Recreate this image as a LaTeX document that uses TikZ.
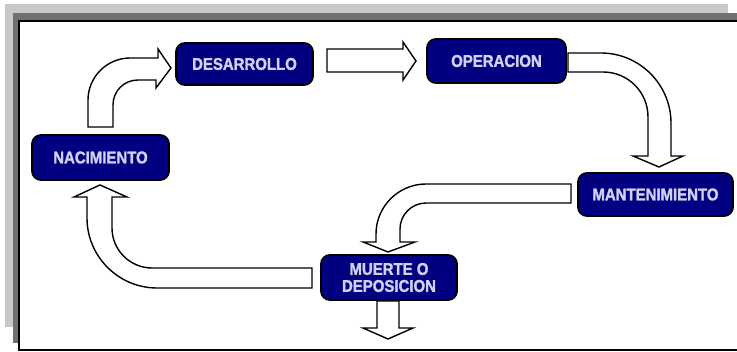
\documentclass[tikz,border=0pt]{standalone}
\usepackage{fontspec}
\setmainfont{Liberation Sans}
\newfontfamily\stagefont{Liberation Sans Bold}[FakeStretch=0.88, FakeBold=1.6]
\begin{document}
\definecolor{boxblue}{RGB}{0,0,128}
\definecolor{boxtext}{RGB}{208,208,242}
\definecolor{shadelight}{RGB}{200,200,200}
\definecolor{shadedark}{RGB}{112,112,112}
\begin{tikzpicture}[x=1pt,y=-1pt,
  stage/.style={draw=black, line width=1.8pt, fill=boxblue, rounded corners=9pt,
    inner sep=0pt, minimum height=44pt, text=boxtext, align=center,
    font=\stagefont\fontsize{17}{17}\selectfont},
  blockarrow/.style={draw=black, line width=1.4pt, fill=white, line join=miter}]
\useasboundingbox (0,0) rectangle (737,352);

% framed panel with its offset shadows
\fill[shadelight] (5,4) rectangle (728,327);
\fill[shadedark] (13,13) rectangle (760,343);
\draw[line width=2pt, fill=white] (19,21) rectangle (780,350.5);

% life-cycle stages
\node[stage, minimum width=137pt, minimum height=42pt] (des) at (244.5,64) {DESARROLLO};
\node[stage, minimum width=139pt] (ope) at (496.5,61) {OPERACION};
\node[stage, minimum width=137pt, minimum height=45pt] (nac) at (100.5,157.5) {NACIMIENTO};
\node[stage, minimum width=155pt, minimum height=43pt] (man) at (655.5,194.5) {MANTENIMIENTO};
\node[stage, minimum width=136pt, minimum height=45pt] (mue) at (389,277.5) {MUERTE O\\DEPOSICION};

% NACIMIENTO -> DESARROLLO
\draw[blockarrow] (88,127) -- (88,100) .. controls (88,77) and (107,58) .. (130,58)
  -- (158,58) -- (158,49) -- (171,68) -- (156,88) -- (156,80) -- (138,80)
  .. controls (124,80) and (113,91) .. (113,105) -- (113,127) -- cycle;

% DESARROLLO -> OPERACION
\draw[blockarrow] (327,49) -- (403,49) -- (403,42) -- (416,61) -- (403,80)
  -- (403,72) -- (327,72) -- cycle;

% OPERACION -> MANTENIMIENTO
\draw[blockarrow] (568,53) -- (601,53) .. controls (639.5,53) and (671,84.5) .. (671,123)
  -- (671,156) -- (683,156) -- (659,167) -- (633,156) -- (648,156) -- (648,117)
  .. controls (648,92) and (628,72) .. (603,72) -- (568,72) -- cycle;

% MANTENIMIENTO -> MUERTE O DEPOSICION
\draw[blockarrow] (571,184) -- (426,184) .. controls (398.5,184) and (376,206.5) .. (376,234)
  -- (376,242) -- (363,242) -- (388,252) -- (415,242) -- (400,242) -- (400,229)
  .. controls (400,214.7) and (411.7,203) .. (426,203) -- (571,203) -- cycle;

% MUERTE O DEPOSICION -> NACIMIENTO
\draw[blockarrow] (312,268) -- (152,268) .. controls (130,268) and (112,250) .. (112,228)
  -- (112,197) -- (127,197) -- (100,185) -- (74,197) -- (87,197) -- (87,218)
  .. controls (87,256.5) and (118.5,288) .. (157,288) -- (312,288) -- cycle;

% exit arrow below the last stage
\draw[blockarrow] (377,301) -- (377,328) -- (363,328) -- (388,339) -- (413,328)
  -- (399,328) -- (399,301) -- cycle;
\end{tikzpicture}
\end{document}
